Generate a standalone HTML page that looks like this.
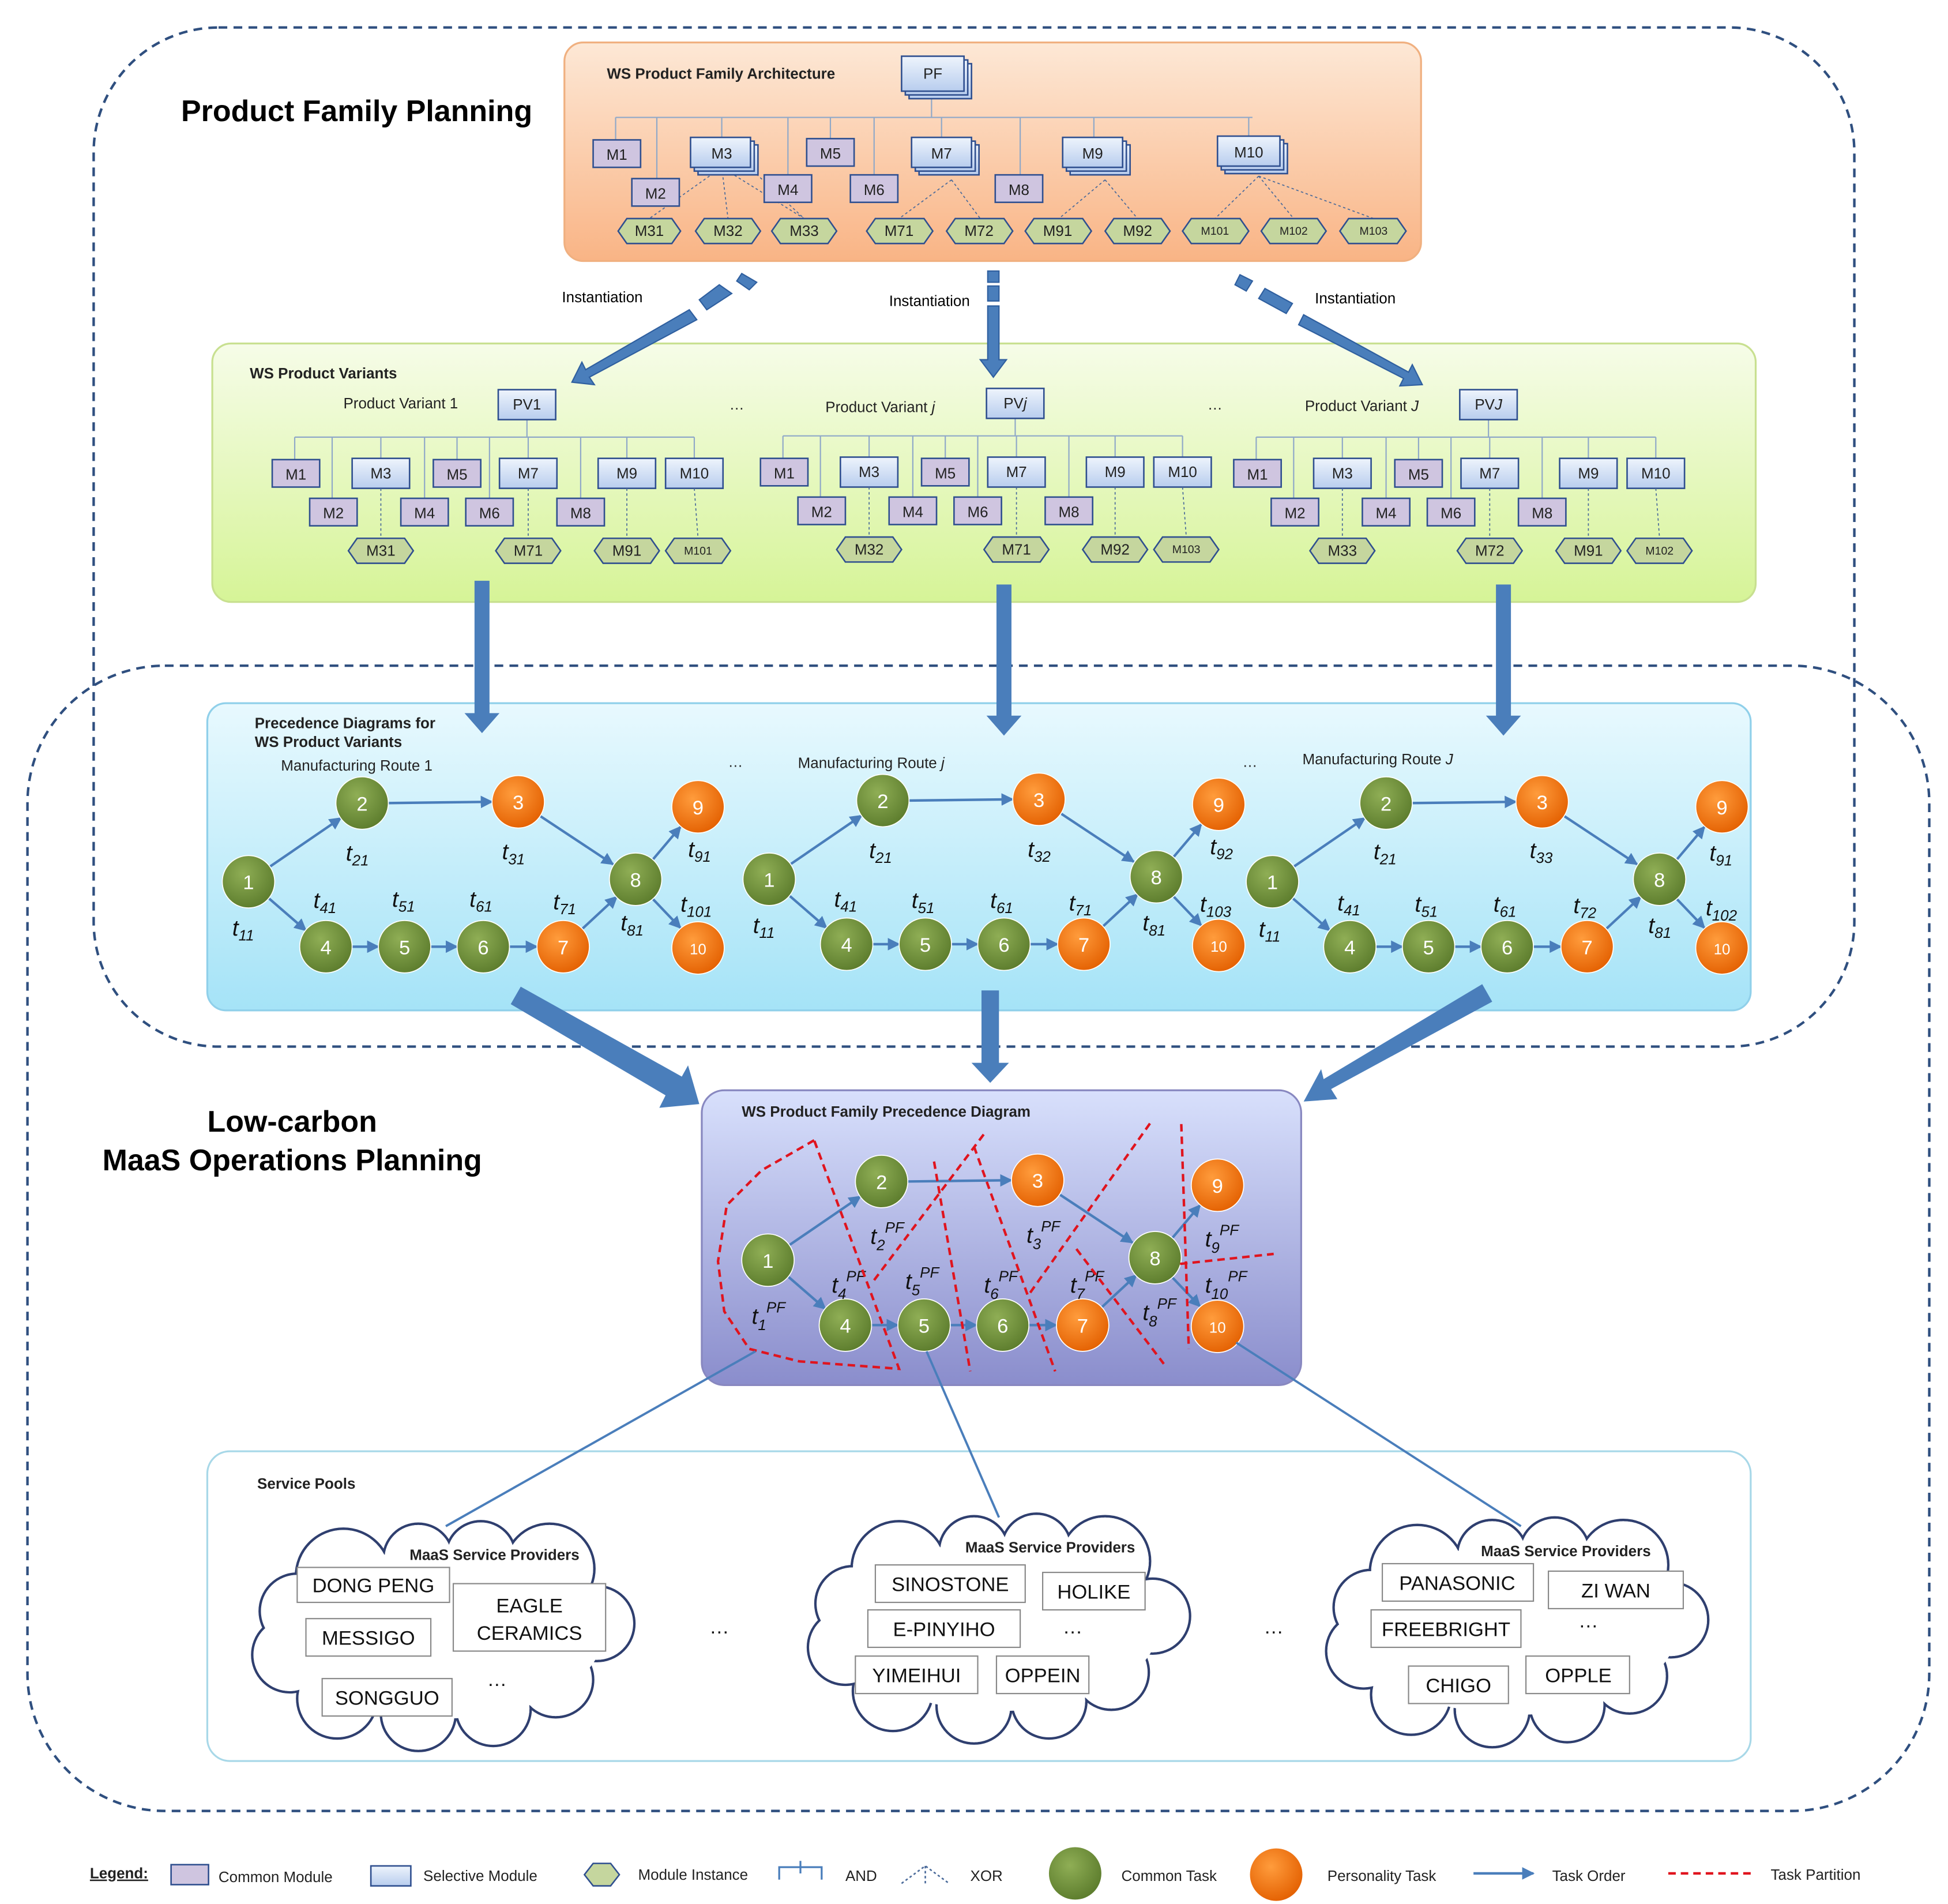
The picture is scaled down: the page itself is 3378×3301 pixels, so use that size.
<!DOCTYPE html>
<html><head><meta charset="utf-8"><style>
html,body{margin:0;padding:0;background:#fff}
svg{display:block}
text{font-family:"Liberation Sans",sans-serif}
.m{font-size:12px;fill:#222}
.b{font-weight:bold}
.t{font-family:"Liberation Serif",serif;font-style:italic;font-size:18px;fill:#111}
.s{font-size:12px}
.n{font-size:16px;fill:#fff;text-anchor:middle}
.cb{fill:#fff;stroke:#888;stroke-width:1}
.ct{font-size:16px;fill:#111;text-anchor:middle}
</style></head><body>
<svg width="3378" height="3301" viewBox="0 0 1560 1524.5" preserveAspectRatio="none" xmlns="http://www.w3.org/2000/svg">
<defs>
<linearGradient id="gO" x1="0" y1="0" x2="0" y2="1"><stop offset="0" stop-color="#fde8d6"/><stop offset="1" stop-color="#f9b485"/></linearGradient>
<linearGradient id="gG" x1="0" y1="0" x2="0" y2="1"><stop offset="0" stop-color="#f6fce8"/><stop offset="1" stop-color="#d6f497"/></linearGradient>
<linearGradient id="gB" x1="0" y1="0" x2="0" y2="1"><stop offset="0" stop-color="#e8f9fe"/><stop offset="1" stop-color="#a5e3f7"/></linearGradient>
<linearGradient id="gP" x1="0" y1="0" x2="0" y2="1"><stop offset="0" stop-color="#d8e0fc"/><stop offset="1" stop-color="#8a8dcc"/></linearGradient>
<linearGradient id="gS" x1="0" y1="0" x2="0" y2="1"><stop offset="0" stop-color="#eef4fc"/><stop offset="1" stop-color="#b8cdee"/></linearGradient>
<radialGradient id="nG" cx=".4" cy=".35" r=".7"><stop offset="0" stop-color="#8fae55"/><stop offset="1" stop-color="#5b7b2c"/></radialGradient>
<radialGradient id="nO" cx=".4" cy=".35" r=".7"><stop offset="0" stop-color="#ff9c3c"/><stop offset="1" stop-color="#e35f00"/></radialGradient>
<marker id="ar" viewBox="0 0 10 10" refX="9" refY="5" markerWidth="5" markerHeight="5" orient="auto"><path d="M0,0 L10,5 L0,10 z" fill="#4a7ebb"/></marker>
</defs>

<rect x="75" y="22" width="1410" height="816" rx="100" fill="none" stroke="#2f4f7f" stroke-width="2" stroke-dasharray="7,5"/>
<rect x="22" y="533" width="1523" height="917" rx="110" fill="none" stroke="#2f4f7f" stroke-width="2" stroke-dasharray="7,5"/>

<text x="145" y="97" class="b" style="font-size:24px">Product Family Planning</text>
<text x="234" y="906" class="b" style="font-size:24px" text-anchor="middle">Low-carbon</text>
<text x="234" y="937" class="b" style="font-size:24px" text-anchor="middle">MaaS Operations Planning</text>

<rect x="452" y="34" width="686" height="175" rx="15" fill="url(#gO)" stroke="#f0b080" stroke-width="1.5"/>
<text x="486" y="63" class="m b">WS Product Family Architecture</text>
<g stroke="#8fa8c8" stroke-width="1" fill="none">
<path d="M493,94 H1003 M746,76 V94 M493,94 V112 M526,94 V143 M578,94 V110 M631,94 V140 M665,94 V111 M700,94 V140 M754,94 V110 M817,94 V140 M876,94 V110 M1000,94 V109"/>
</g>
<g stroke="#4a6a9a" stroke-width="0.8" stroke-dasharray="2,2" fill="none">
<path d="M578,134 L520,175 M578,134 L583,175 M578,134 L644,175 M600,134 L644,175 M762,144 L720,175 M762,144 L785,175 M885,144 L848,175 M885,144 L911,175 M1008,141 L973,175 M1008,141 L1036,175 M1008,141 L1100,175"/>
</g>
<g stroke="#2f4f8f" stroke-width="1.2">
<rect x="728" y="51" width="50" height="28" fill="url(#gS)"/><rect x="725" y="48" width="50" height="28" fill="url(#gS)"/><rect x="722" y="45" width="50" height="28" fill="url(#gS)"/>
</g><text x="747" y="63" class="m" text-anchor="middle">PF</text>
<g stroke="#2f4f8f" stroke-width="1.2">
<rect x="475" y="112" width="38" height="22" fill="#cfc5e0"/>
<rect x="506" y="143" width="38" height="22" fill="#cfc5e0"/>
<rect x="612" y="140" width="38" height="22" fill="#cfc5e0"/>
<rect x="646" y="111" width="38" height="22" fill="#cfc5e0"/>
<rect x="681" y="140" width="38" height="22" fill="#cfc5e0"/>
<rect x="797" y="140" width="38" height="22" fill="#cfc5e0"/>
<rect x="559" y="116" width="48" height="24" fill="url(#gS)"/><rect x="556" y="113" width="48" height="24" fill="url(#gS)"/><rect x="553" y="110" width="48" height="24" fill="url(#gS)"/>
<rect x="736" y="116" width="48" height="24" fill="url(#gS)"/><rect x="733" y="113" width="48" height="24" fill="url(#gS)"/><rect x="730" y="110" width="48" height="24" fill="url(#gS)"/>
<rect x="857" y="116" width="48" height="24" fill="url(#gS)"/><rect x="854" y="113" width="48" height="24" fill="url(#gS)"/><rect x="851" y="110" width="48" height="24" fill="url(#gS)"/>
<rect x="981" y="115" width="50" height="24" fill="url(#gS)"/><rect x="978" y="112" width="50" height="24" fill="url(#gS)"/><rect x="975" y="109" width="50" height="24" fill="url(#gS)"/>
</g>
<g class="m" text-anchor="middle">
<text x="494" y="128">M1</text><text x="525" y="159">M2</text><text x="578" y="127">M3</text><text x="631" y="156">M4</text><text x="665" y="127">M5</text><text x="700" y="156">M6</text><text x="754" y="127">M7</text><text x="816" y="156">M8</text><text x="875" y="127">M9</text><text x="1000" y="126">M10</text>
</g>
<g fill="#c5d69e" stroke="#2f4f8f" stroke-width="1.2">
<polygon points="495,185 502,175 538,175 545,185 538,195 502,195"/>
<polygon points="557,185 564,175 602,175 609,185 602,195 564,195"/>
<polygon points="618,185 625,175 663,175 670,185 663,195 625,195"/>
<polygon points="694,185 701,175 740,175 747,185 740,195 701,195"/>
<polygon points="758,185 765,175 804,175 811,185 804,195 765,195"/>
<polygon points="821,185 828,175 867,175 874,185 867,195 828,195"/>
<polygon points="885,185 892,175 930,175 937,185 930,195 892,195"/>
<polygon points="947,185 954,175 993,175 1000,185 993,195 954,195"/>
<polygon points="1010,185 1017,175 1055,175 1062,185 1055,195 1017,195"/>
<polygon points="1073,185 1080,175 1119,175 1126,185 1119,195 1080,195"/>
</g>
<g class="m" text-anchor="middle">
<text x="520" y="189">M31</text><text x="583" y="189">M32</text><text x="644" y="189">M33</text><text x="720" y="189">M71</text><text x="784" y="189">M72</text><text x="847" y="189">M91</text><text x="911" y="189">M92</text>
<text x="973" y="188" style="font-size:9px">M101</text><text x="1036" y="188" style="font-size:9px">M102</text><text x="1100" y="188" style="font-size:9px">M103</text>
</g>

<text x="450" y="242" class="s">Instantiation</text>
<text x="712" y="245" class="s">Instantiation</text>
<text x="1053" y="243" class="s">Instantiation</text>

<rect x="170" y="275" width="1236" height="207" rx="15" fill="url(#gG)" stroke="#c8e090" stroke-width="1.5"/>
<text x="200" y="303" class="m b">WS Product Variants</text>
<text x="584" y="328" class="m">…</text><text x="967" y="328" class="m">…</text>

<g id="v1">
<g stroke="#8fa8c8" stroke-width="1" fill="none"><path d="M236,350 H556 M422,336 V350 M236,350 V368 M266,350 V399 M305,350 V367 M340,350 V399 M366,350 V368 M392,350 V399 M423,350 V367 M465,350 V399 M502,350 V367 M556,350 V367"/></g>
<g stroke="#2f4f8f" stroke-width="1.2">
<rect x="399" y="312" width="46" height="24" fill="url(#gS)"/>
<rect x="218" y="368" width="38" height="22" fill="#cfc5e0"/>
<rect x="248" y="399" width="38" height="22" fill="#cfc5e0"/>
<rect x="321" y="399" width="38" height="22" fill="#cfc5e0"/>
<rect x="347" y="368" width="38" height="22" fill="#cfc5e0"/>
<rect x="373" y="399" width="38" height="22" fill="#cfc5e0"/>
<rect x="446" y="399" width="38" height="22" fill="#cfc5e0"/>
<rect x="282" y="367" width="46" height="24" fill="url(#gS)"/>
<rect x="400" y="367" width="46" height="24" fill="url(#gS)"/>
<rect x="479" y="367" width="46" height="24" fill="url(#gS)"/>
<rect x="533" y="367" width="46" height="24" fill="url(#gS)"/>
</g>
<g stroke="#4a6a9a" stroke-width="0.8" stroke-dasharray="2,2" fill="none"><path d="M305,391 L305,431 M423,391 L423,431 M502,391 L502,431 M556,391 L559,431"/></g>
<g fill="#c5d69e" stroke="#2f4f8f" stroke-width="1.2">
<polygon points="279,441 286,431 324,431 331,441 324,451 286,451"/>
<polygon points="397,441 404,431 442,431 449,441 442,451 404,451"/>
<polygon points="476,441 483,431 521,431 528,441 521,451 483,451"/>
<polygon points="533,441 540,431 578,431 585,441 578,451 540,451"/>
</g>
<g class="m" text-anchor="middle">
<text x="237" y="384">M1</text><text x="267" y="415">M2</text><text x="305" y="383">M3</text><text x="340" y="415">M4</text><text x="366" y="384">M5</text><text x="392" y="415">M6</text><text x="423" y="383">M7</text><text x="465" y="415">M8</text><text x="502" y="383">M9</text><text x="556" y="383">M10</text>
</g>
</g>
<g class="m" text-anchor="middle">
<text x="422" y="328">PV1</text><text x="305" y="445">M31</text><text x="423" y="445">M71</text><text x="502" y="445">M91</text><text x="559" y="444" style="font-size:9px">M101</text>
</g>
<text x="275" y="327" class="m">Product Variant 1</text>

<use href="#v1" transform="translate(391,-1)"/>
<g class="m" text-anchor="middle">
<text x="813" y="327">PV<tspan font-style="italic">j</tspan></text><text x="696" y="444">M32</text><text x="814" y="444">M71</text><text x="893" y="444">M92</text><text x="950" y="443" style="font-size:9px">M103</text>
</g>
<text x="661" y="330" class="m">Product Variant <tspan font-style="italic">j</tspan></text>

<use href="#v1" transform="translate(770,0)"/>
<g class="m" text-anchor="middle">
<text x="1192" y="328">PV<tspan font-style="italic">J</tspan></text><text x="1075" y="445">M33</text><text x="1193" y="445">M72</text><text x="1272" y="445">M91</text><text x="1329" y="444" style="font-size:9px">M102</text>
</g>
<text x="1045" y="329" class="m">Product Variant <tspan font-style="italic">J</tspan></text>

<!-- instantiation arrows (on top) -->
<g fill="#4a7ebb" stroke="#2f5f9f" stroke-width="1">
<path d="M594,219 L606,226 L600,232 L590,225 Z"/>
<path d="M576,228 L586,235 L566,248 L560,240 Z"/>
<path d="M552,248 L558,256 L472,302 L476,308 L458,306 L466,290 L469,296 Z"/>
<rect x="791" y="217" width="9" height="9"/>
<rect x="791" y="229" width="9" height="12"/>
<path d="M791,245 H800 V288 H806 L795.5,302 L785,288 H791 Z"/>
<path d="M993,220 L1003,225 L998,233 L989,228 Z"/>
<path d="M1013,231 L1035,243 L1030,251 L1008,239 Z"/>
<path d="M1044,252 L1128,298 L1131,292 L1139,308 L1121,309 L1124,303 L1040,260 Z"/>
</g>

<rect x="166" y="563" width="1236" height="246" rx="15" fill="url(#gB)" stroke="#90d0ea" stroke-width="1.5"/>
<text x="204" y="583" class="m b">Precedence Diagrams for</text>
<text x="204" y="598" class="m b">WS Product Variants</text>
<text x="225" y="617" class="m">Manufacturing Route 1</text>
<text x="639" y="615" class="m">Manufacturing Route <tspan font-style="italic">j</tspan></text>
<text x="1043" y="612" class="m">Manufacturing Route <tspan font-style="italic">J</tspan></text>
<text x="583" y="614" class="m">…</text><text x="995" y="614" class="m">…</text>

<!-- down arrows (on top) -->
<g fill="#4a7ebb">
<path d="M380,465 H392 V571 H400 L386,587 L372,571 H380 Z"/>
<path d="M798,468 H810 V573 H818 L804,589 L790,573 H798 Z"/>
<path d="M1198,468 H1210 V573 H1218 L1204,589 L1190,573 H1198 Z"/>
</g>

<g id="r1">
<g stroke="#4a7ebb" stroke-width="2" marker-end="url(#ar)">
<line x1="216" y1="694" x2="273" y2="655"/><line x1="311" y1="643" x2="394" y2="642"/><line x1="432" y1="653" x2="491" y2="692"/>
<line x1="215" y1="719" x2="245" y2="745"/><line x1="282" y1="758" x2="303" y2="758"/><line x1="345" y1="758" x2="366" y2="758"/>
<line x1="408" y1="758" x2="430" y2="758"/><line x1="466" y1="744" x2="494" y2="718"/><line x1="523" y1="688" x2="545" y2="662"/><line x1="523" y1="720" x2="545" y2="743"/>
</g>
<g stroke="#fff" stroke-width="0.8">
<circle cx="199" cy="706" r="21" fill="url(#nG)"/><circle cx="290" cy="643" r="21" fill="url(#nG)"/><circle cx="415" cy="642" r="21" fill="url(#nO)"/>
<circle cx="261" cy="758" r="21" fill="url(#nG)"/><circle cx="324" cy="758" r="21" fill="url(#nG)"/><circle cx="387" cy="758" r="21" fill="url(#nG)"/>
<circle cx="451" cy="758" r="21" fill="url(#nO)"/><circle cx="509" cy="704" r="21" fill="url(#nG)"/><circle cx="559" cy="646" r="21" fill="url(#nO)"/><circle cx="559" cy="759" r="21" fill="url(#nO)"/>
</g>
<g class="n">
<text x="199" y="712">1</text><text x="290" y="649">2</text><text x="415" y="648">3</text><text x="261" y="764">4</text><text x="324" y="764">5</text><text x="387" y="764">6</text><text x="451" y="764">7</text><text x="509" y="710">8</text><text x="559" y="652">9</text><text x="559" y="764" style="font-size:12px">10</text>
</g>
</g>
<use href="#r1" transform="translate(417,-2)"/>
<use href="#r1" transform="translate(820,0)"/>

<g class="t">
<text x="277" y="689">t<tspan font-size="12" dy="4">21</tspan></text><text x="402" y="688">t<tspan font-size="12" dy="4">31</tspan></text><text x="551" y="686">t<tspan font-size="12" dy="4">91</tspan></text>
<text x="251" y="727">t<tspan font-size="12" dy="4">41</tspan></text><text x="314" y="726">t<tspan font-size="12" dy="4">51</tspan></text><text x="376" y="726">t<tspan font-size="12" dy="4">61</tspan></text><text x="443" y="728">t<tspan font-size="12" dy="4">71</tspan></text><text x="545" y="730">t<tspan font-size="12" dy="4">101</tspan></text>
<text x="186" y="749">t<tspan font-size="12" dy="4">11</tspan></text><text x="497" y="745">t<tspan font-size="12" dy="4">81</tspan></text>

<text x="696" y="687">t<tspan font-size="12" dy="4">21</tspan></text><text x="823" y="686">t<tspan font-size="12" dy="4">32</tspan></text><text x="969" y="684">t<tspan font-size="12" dy="4">92</tspan></text>
<text x="668" y="726">t<tspan font-size="12" dy="4">41</tspan></text><text x="730" y="727">t<tspan font-size="12" dy="4">51</tspan></text><text x="793" y="727">t<tspan font-size="12" dy="4">61</tspan></text><text x="856" y="729">t<tspan font-size="12" dy="4">71</tspan></text><text x="961" y="730">t<tspan font-size="12" dy="4">103</tspan></text>
<text x="603" y="747">t<tspan font-size="12" dy="4">11</tspan></text><text x="915" y="745">t<tspan font-size="12" dy="4">81</tspan></text>

<text x="1100" y="688">t<tspan font-size="12" dy="4">21</tspan></text><text x="1225" y="687">t<tspan font-size="12" dy="4">33</tspan></text><text x="1369" y="689">t<tspan font-size="12" dy="4">91</tspan></text>
<text x="1071" y="729">t<tspan font-size="12" dy="4">41</tspan></text><text x="1133" y="730">t<tspan font-size="12" dy="4">51</tspan></text><text x="1196" y="730">t<tspan font-size="12" dy="4">61</tspan></text><text x="1260" y="731">t<tspan font-size="12" dy="4">72</tspan></text><text x="1366" y="733">t<tspan font-size="12" dy="4">102</tspan></text>
<text x="1008" y="750">t<tspan font-size="12" dy="4">11</tspan></text><text x="1320" y="747">t<tspan font-size="12" dy="4">81</tspan></text>
</g>

<g fill="#4a7ebb">
<path d="M409,804 L417,790 L546,862 L551,853 L560,884 L528,887 L533,877 Z"/>
<path d="M786,793 H800 V851 H808 L793,867 L778,851 H786 Z"/>
<path d="M1187,788 L1195,802 L1066,872 L1071,880 L1044,882 L1058,856 L1060,864 Z"/>
</g>

<rect x="562" y="873" width="480" height="236" rx="18" fill="url(#gP)" stroke="#8888c0" stroke-width="1.5"/>
<text x="594" y="894" class="m b">WS Product Family Precedence Diagram</text>
<use href="#r1" transform="translate(416,303)"/>
<g class="t">
<text x="602" y="1060">t<tspan font-size="12" dy="5">1</tspan><tspan font-size="12" dy="-14">PF</tspan></text>
<text x="697" y="996">t<tspan font-size="12" dy="5">2</tspan><tspan font-size="12" dy="-14">PF</tspan></text>
<text x="822" y="995">t<tspan font-size="12" dy="5">3</tspan><tspan font-size="12" dy="-14">PF</tspan></text>
<text x="666" y="1035">t<tspan font-size="12" dy="5">4</tspan><tspan font-size="12" dy="-14">PF</tspan></text>
<text x="725" y="1032">t<tspan font-size="12" dy="5">5</tspan><tspan font-size="12" dy="-14">PF</tspan></text>
<text x="788" y="1035">t<tspan font-size="12" dy="5">6</tspan><tspan font-size="12" dy="-14">PF</tspan></text>
<text x="857" y="1035">t<tspan font-size="12" dy="5">7</tspan><tspan font-size="12" dy="-14">PF</tspan></text>
<text x="915" y="1057">t<tspan font-size="12" dy="5">8</tspan><tspan font-size="12" dy="-14">PF</tspan></text>
<text x="965" y="998">t<tspan font-size="12" dy="5">9</tspan><tspan font-size="12" dy="-14">PF</tspan></text>
<text x="965" y="1035">t<tspan font-size="12" dy="5">10</tspan><tspan font-size="12" dy="-14">PF</tspan></text>
</g>
<g stroke="#e0141e" stroke-width="2" stroke-dasharray="6,4" fill="none">
<path d="M652,913 L610,937 L582,965 L575,1010 L580,1050 L600,1080 L640,1090 L720,1096 L652,913"/>
<path d="M700,1025 L788,908"/>
<path d="M748,930 L777,1098"/>
<path d="M780,918 L845,1098"/>
<path d="M825,1035 L922,898"/>
<path d="M862,1000 L932,1092"/>
<path d="M946,900 L952,1080"/>
<path d="M945,1012 L1020,1004"/>
</g>

<rect x="166" y="1162" width="1236" height="248" rx="18" fill="#fff" stroke="#a8d8e8" stroke-width="1.5"/>
<text x="206" y="1192" class="m b">Service Pools</text>
<g stroke="#4a7ebb" stroke-width="1.8" fill="none">
<line x1="357" y1="1222" x2="605" y2="1082"/>
<line x1="800" y1="1215" x2="742" y2="1082"/>
<line x1="1218" y1="1222" x2="990" y2="1075"/>
</g>

<g id="cl">
<g fill="#fff" stroke="#2f3f6f" stroke-width="2">
<circle cx="275" cy="1262" r="38"/><circle cx="335" cy="1248" r="28"/><circle cx="385" cy="1246" r="28"/><circle cx="440" cy="1256" r="36"/><circle cx="478" cy="1300" r="30"/><circle cx="445" cy="1345" r="30"/><circle cx="395" cy="1368" r="30"/><circle cx="335" cy="1372" r="30"/><circle cx="270" cy="1360" r="32"/><circle cx="232" cy="1325" r="30"/><circle cx="238" cy="1290" r="30"/>
</g>
<g fill="#fff">
<circle cx="275" cy="1262" r="37"/><circle cx="335" cy="1248" r="27"/><circle cx="385" cy="1246" r="27"/><circle cx="440" cy="1256" r="35"/><circle cx="478" cy="1300" r="29"/><circle cx="445" cy="1345" r="29"/><circle cx="395" cy="1368" r="29"/><circle cx="335" cy="1372" r="29"/><circle cx="270" cy="1360" r="31"/><circle cx="232" cy="1325" r="29"/><circle cx="238" cy="1290" r="29"/><ellipse cx="355" cy="1308" rx="128" ry="68"/>
</g>
</g>
<use href="#cl" transform="translate(445,-6)"/>
<use href="#cl" transform="translate(860,-3)"/>

<g class="m b" text-anchor="middle">
<text x="396" y="1249">MaaS Service Providers</text><text x="841" y="1243">MaaS Service Providers</text><text x="1254" y="1246">MaaS Service Providers</text>
</g>
<g class="cb">
<rect x="238" y="1255" width="122" height="28"/><rect x="363" y="1268" width="122" height="54"/><rect x="245" y="1296" width="100" height="30"/><rect x="258" y="1344" width="104" height="30"/>
<rect x="701" y="1253" width="120" height="30"/><rect x="835" y="1259" width="82" height="30"/><rect x="695" y="1289" width="122" height="30"/><rect x="685" y="1326" width="98" height="30"/><rect x="798" y="1326" width="74" height="30"/>
<rect x="1107" y="1252" width="121" height="30"/><rect x="1240" y="1258" width="108" height="30"/><rect x="1098" y="1289" width="120" height="30"/><rect x="1128" y="1334" width="80" height="30"/><rect x="1222" y="1326" width="83" height="30"/>
</g>
<g class="ct">
<text x="299" y="1275">DONG PENG</text><text x="424" y="1291">EAGLE</text><text x="424" y="1313">CERAMICS</text><text x="295" y="1317">MESSIGO</text><text x="310" y="1365">SONGGUO</text><text x="398" y="1350">…</text>
<text x="761" y="1274">SINOSTONE</text><text x="876" y="1280">HOLIKE</text><text x="756" y="1310">E-PINYIHO</text><text x="734" y="1347">YIMEIHUI</text><text x="835" y="1347">OPPEIN</text><text x="859" y="1308">…</text>
<text x="1167" y="1273">PANASONIC</text><text x="1294" y="1279">ZI WAN</text><text x="1158" y="1310">FREEBRIGHT</text><text x="1168" y="1355">CHIGO</text><text x="1264" y="1347">OPPLE</text><text x="1272" y="1303">…</text>
<text x="576" y="1308">…</text><text x="1020" y="1308">…</text>
</g>

<text x="72" y="1504" class="m b" text-decoration="underline">Legend:</text>
<rect x="137" y="1493" width="30" height="16" fill="#cfc5e0" stroke="#2f4f8f" stroke-width="1.2"/>
<text x="175" y="1507" class="m">Common Module</text>
<rect x="297" y="1494" width="32" height="16" fill="url(#gS)" stroke="#2f4f8f" stroke-width="1.2"/>
<text x="339" y="1506" class="m">Selective Module</text>
<polygon points="468,1501 475,1492 489,1492 496,1501 489,1510 475,1510" fill="#c5d69e" stroke="#2f4f8f" stroke-width="1.2"/>
<text x="511" y="1505" class="m">Module Instance</text>
<path d="M624,1505 V1495 H658 V1505 M641,1490 V1500" stroke="#4a7ebb" stroke-width="1.5" fill="none"/>
<text x="677" y="1506" class="m">AND</text>
<path d="M722,1508 L741,1494 L760,1508 M741,1494 L741,1508" stroke="#4a6a9a" stroke-width="1.2" stroke-dasharray="2,2" fill="none"/>
<text x="777" y="1506" class="m">XOR</text>
<circle cx="861" cy="1500" r="21" fill="url(#nG)"/>
<text x="898" y="1506" class="m">Common Task</text>
<circle cx="1022" cy="1501" r="21" fill="url(#nO)"/>
<text x="1063" y="1506" class="m">Personality Task</text>
<line x1="1180" y1="1500" x2="1228" y2="1500" stroke="#4a7ebb" stroke-width="2" marker-end="url(#ar)"/>
<text x="1243" y="1506" class="m">Task Order</text>
<line x1="1336" y1="1500" x2="1402" y2="1500" stroke="#e0141e" stroke-width="2" stroke-dasharray="6,4"/>
<text x="1418" y="1505" class="m">Task Partition</text>
</svg>
</body></html>
